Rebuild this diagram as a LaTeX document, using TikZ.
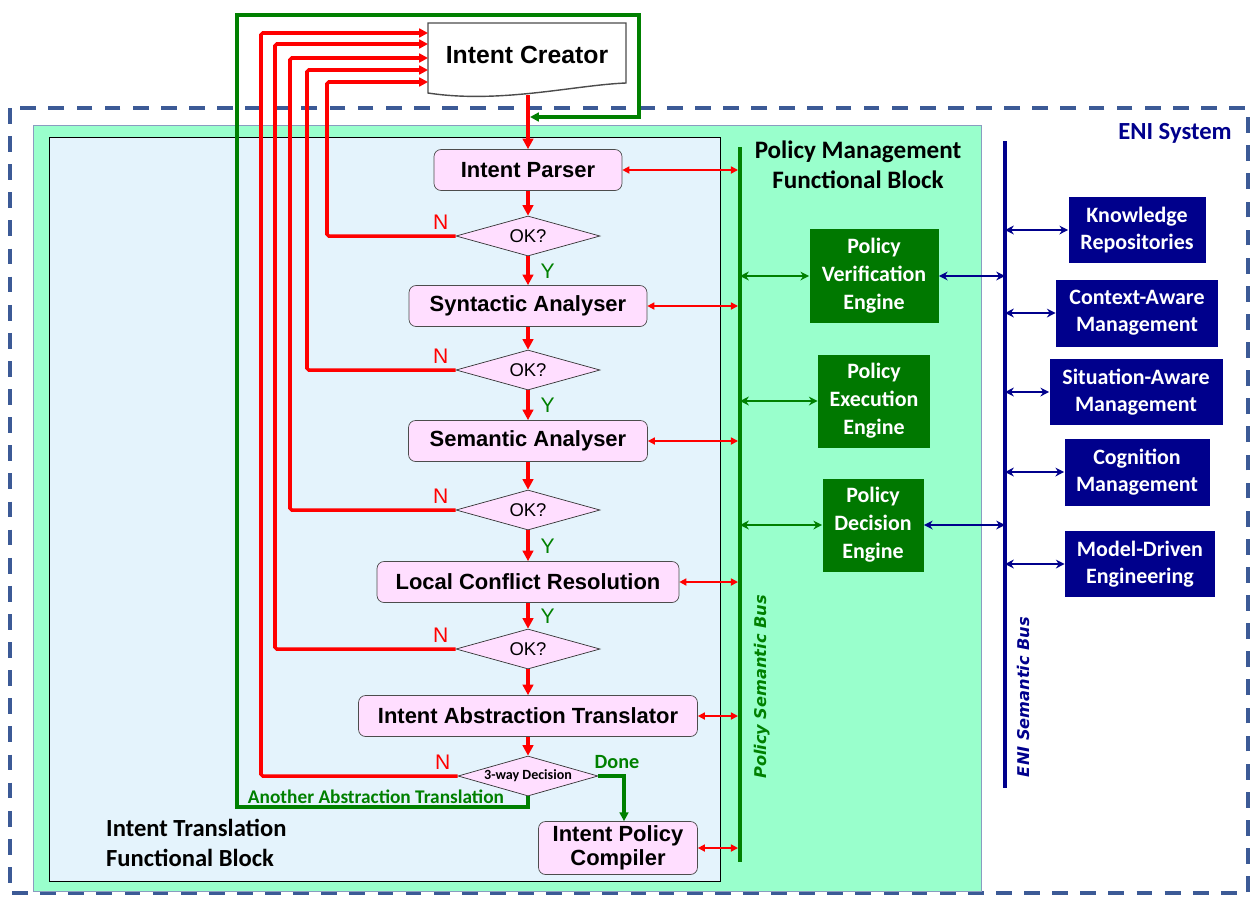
\documentclass[tikz,border=0pt]{standalone}
\usepackage{fontspec}
\setmainfont{Liberation Sans}
\newfontfamily\calibfont{Carlito}
\newfontfamily\busfont{DejaVu Sans}
\usetikzlibrary{arrows.meta,shapes.geometric}
\definecolor{boxpink}{RGB}{255,222,255}
\definecolor{itfblue}{RGB}{228,243,252}
\definecolor{pmfmint}{RGB}{153,255,204}
\definecolor{ygreen}{RGB}{0,128,0}
\definecolor{enggreen}{RGB}{0,120,0}
\definecolor{eninavy}{RGB}{0,0,140}
\definecolor{enidash}{RGB}{60,90,150}

\begin{document}
\begin{tikzpicture}[x=0.02cm,y=-0.02cm,
  flowbox/.style={draw=black!70,fill=boxpink,rounded corners=4pt,minimum height=0.82cm,font=\bfseries\fontsize{12.5}{15}\selectfont,align=center},
  okbox/.style={diamond,draw=black!80,fill=boxpink,aspect=3.6,minimum width=2.88cm,minimum height=0.8cm,inner sep=0pt,font=\fontsize{10.5}{12}\selectfont},
  flow/.style={red,line width=1.8pt,-{Triangle[length=6pt,width=6pt]}},
  nloop/.style={red,line width=2pt,-{Triangle[length=5pt,width=5pt]}},
  aloop/.style={ygreen,line width=2pt,-{Triangle[length=5pt,width=5pt]}},
  nlab/.style={text=red,font=\fontsize{12}{14}\selectfont},
  ylab/.style={text=ygreen,font=\fontsize{12}{14}\selectfont,right=3pt},
  pbusarrow/.style={red,line width=0.9pt,{Triangle[length=4pt,width=4pt]}-{Triangle[length=4pt,width=4pt]}},
  garrow/.style={ygreen,line width=1.1pt,{Stealth[length=5pt,width=5pt]}-{Stealth[length=5pt,width=5pt]}},
  narrow/.style={eninavy,line width=1.3pt,{Stealth[length=5pt,width=5pt]}-{Stealth[length=5pt,width=5pt]}},
  engine/.style={fill=enggreen,text=white,inner sep=0pt,align=center,font=\calibfont\bfseries\fontsize{12.5}{16}\selectfont},
  enibox/.style={fill=eninavy,text=white,inner sep=0pt,align=center,font=\calibfont\bfseries\fontsize{12.5}{15.5}\selectfont},
  buslab/.style={rotate=90,font=\busfont\bfseries\itshape\fontsize{9.2}{11}\selectfont}]
\useasboundingbox (0,0) rectangle (1250,900);
\draw[enidash,line width=1.8pt,dash pattern=on 9pt off 7pt] (10,108) rectangle (1248,893);
\filldraw[fill=pmfmint,draw=enidash!60] (33,125) rectangle (981,891);
\filldraw[fill=itfblue,draw=black] (49,137) rectangle (720,881);
\node[text=eninavy,font=\calibfont\bfseries\fontsize{14}{16}\selectfont] (enisys) at (1175,133) {ENI System};
\node[align=center,font=\calibfont\bfseries\fontsize{14.3}{17}\selectfont] (pmfb) at (858,165) {Policy Management\\Functional Block};
\node[anchor=west,align=left,font=\calibfont\bfseries\fontsize{14}{17}\selectfont] (itfb) at (100,843) {Intent Translation\\Functional Block};

\filldraw[fill=white,draw=black!70,line width=0.8pt] (428,23) -- (626,23) -- (626,83) .. controls (575,85) and (500,104) .. (428,93) -- cycle;
\node[font=\bfseries\fontsize{14.1}{16}\selectfont] (creator) at (527,55) {Intent Creator};
\coordinate (cbot) at (528,95);

\node[flowbox,minimum width=3.76cm] (parser) at (528,170) {Intent Parser};
\node[okbox] (ok1) at (528,236) {OK?};
\node[flowbox,minimum width=4.76cm] (syn) at (528,306) {Syntactic Analyser};
\node[okbox] (ok2) at (528,370) {OK?};
\node[flowbox,minimum width=4.78cm] (sem) at (528,441) {Semantic Analyser};
\node[okbox] (ok3) at (528,510) {OK?};
\node[flowbox,minimum width=6.04cm] (lcr) at (528,582) {Local Conflict Resolution};
\node[okbox] (ok4) at (528,649) {OK?};
\node[flowbox,minimum width=6.78cm] (iat) at (528,716) {Intent Abstraction Translator};
\node[okbox,minimum width=2.8cm,font=\calibfont\bfseries\fontsize{8}{9}\selectfont] (dec) at (528,776) {3-way Decision};
\node[flowbox,minimum width=3.18cm,minimum height=1.06cm,inner sep=1pt,font=\bfseries\fontsize{12.5}{13.5}\selectfont] (comp) at (618,848) {Intent Policy\\Compiler};

\draw[flow] (cbot) -- (parser);
\draw[flow] (parser) -- (ok1);
\draw[flow] (ok1) -- node[ylab] {Y} (syn);
\draw[flow] (syn) -- (ok2);
\draw[flow] (ok2) -- node[ylab] {Y} (sem);
\draw[flow] (sem) -- (ok3);
\draw[flow] (ok3) -- node[ylab] {Y} (lcr);
\draw[flow] (lcr) -- node[ylab] {Y} (ok4);
\draw[flow] (ok4) -- (iat);
\draw[flow] (iat) -- (dec);

\foreach \d/\x/\y in {ok1/327/82,ok2/307/70,ok3/290/58,ok4/275/44,dec/261/33}{
  \draw[nloop,rounded corners=1pt] (\d.west) -| (\x,\y) -- (428,\y);
  \node[nlab] at ([shift={(-15,-14)}]\d.west) {N};
}
\draw[aloop] (dec.south) |- (237,807) |- (639,15) |- (530,117);
\node[text=ygreen,font=\calibfont\bfseries\fontsize{11}{13}\selectfont] (another) at (376,797) {Another Abstraction Translation};
\draw[aloop] (dec.east) -| (comp.north -| 624,0);
\node[text=ygreen,font=\calibfont\bfseries\fontsize{11.5}{13}\selectfont] (done) at (617,762) {Done};

\coordinate (ptop) at (740,147);
\coordinate (pbot) at (740,862);
\draw[ygreen,line width=2.3pt] (ptop) -- (pbot);
\node[buslab,text=ygreen] (pbus) at (762,687) {Policy Semantic Bus};
\foreach \n in {parser,syn,sem,lcr,iat,comp}
  \draw[pbusarrow] (\n.east) -- (\n.east -| 738,0);

\node[engine,minimum width=2.58cm,minimum height=1.9cm] (verif) at (874,276) {Policy\\Verification\\Engine};
\node[engine,minimum width=2.24cm,minimum height=1.86cm] (exec) at (874,401) {Policy\\Execution\\Engine};
\node[engine,minimum width=2.02cm,minimum height=1.86cm] (pde) at (873,525) {Policy\\Decision\\Engine};
\foreach \n in {verif,exec,pde}
  \draw[garrow] (ptop |- \n.west) -- (\n.west);

\coordinate (etop) at (1005,141);
\coordinate (ebot) at (1005,788);
\draw[eninavy,line width=2pt] (etop) -- (ebot);
\node[buslab,text=eninavy] (ebus) at (1023,697) {ENI Semantic Bus};
\draw[narrow] (verif.east) -- (verif.east -| etop);
\draw[narrow] (pde.east) -- (pde.east -| etop);

\node[enibox,minimum width=2.74cm,minimum height=1.32cm] (know) at (1137,230) {Knowledge\\Repositories};
\node[enibox,minimum width=3.24cm,minimum height=1.34cm] (ctx) at (1137,313) {Context-Aware\\Management};
\node[enibox,minimum width=3.46cm,minimum height=1.32cm] (sit) at (1136,392) {Situation-Aware\\Management};
\node[enibox,minimum width=2.9cm,minimum height=1.34cm] (cog) at (1137,472) {Cognition\\Management};
\node[enibox,minimum width=3cm,minimum height=1.32cm] (mde) at (1140,564) {Model-Driven\\Engineering};
\foreach \n in {know,ctx,sit,cog,mde}
  \draw[narrow] (etop |- \n.west) -- (\n.west);
\end{tikzpicture}
\end{document}
